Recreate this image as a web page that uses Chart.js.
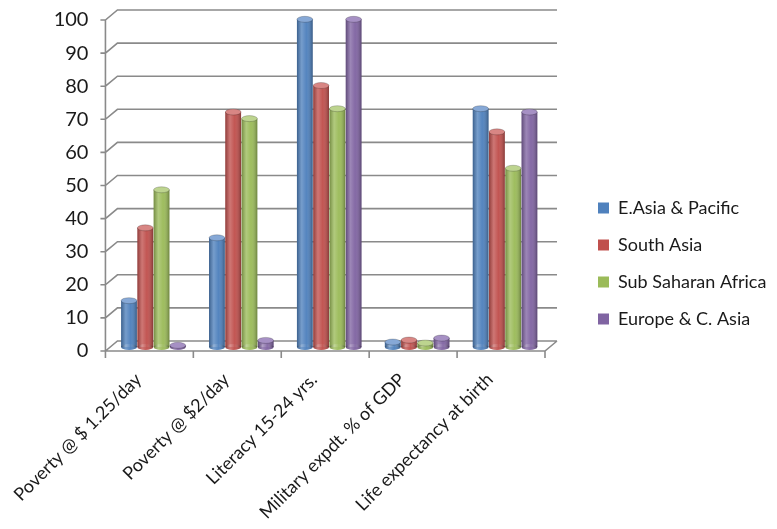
<!DOCTYPE html>
<html>
<head>
<meta charset="utf-8">
<script src="https://cdn.jsdelivr.net/npm/chart.js@4.4.0/dist/chart.umd.min.js"></script>
<style>
    html, body { margin: 0; padding: 0; background: #fff; }
    #wrap { width: 777px; height: 529px; }
</style>
</head>
<body>
<div id="wrap"><canvas id="charts"></canvas></div>
<script>
// data
const categories = ['Poverty @ $ 1.25/day', 'Poverty @ $2/day', 'Literacy 15-24 yrs.', 'Military expdt. % of GDP', 'Life expectancy at birth']
const seriesNames = ['E.Asia & Pacific', 'South Asia', 'Sub Saharan Africa', 'Europe & C. Asia']
const eastAsia = [14, 33, 99, 1.5, 72]
const southAsia = [36, 71, 79, 2.1, 65]
const subSahara = [47.5, 69, 72, 1.2, 54]
const europeAsia = [0.5, 2, 99, 2.7, 71]
const yTicks = [0, 10, 20, 30, 40, 50, 60, 70, 80, 90, 100]

const colors = ['#4F81BD', '#C0504D', '#9BBB59', '#8064A2']
const capColors = ['#86A8D6', '#D88684', '#BDD48F', '#A690C4']
const FONT = 'Lato'
const LEGEND_WIDTH = 198

// 3D look: front plane and back wall offsets from the bar plane
const front = { x: -4, y: 4 }
const back = { x: 8, y: -6 }

const wallPlugin = {
    id: 'wall',
    beforeDatasetsDraw(chart) {
        const { ctx, chartArea: a, scales: { y } } = chart
        ctx.save()
        ctx.strokeStyle = '#8a8a8a'
        ctx.lineWidth = 1.6
        ctx.beginPath()
        y.ticks.forEach(t => {
            const py = y.getPixelForValue(t.value)
            ctx.moveTo(a.left + front.x - 5, py + front.y)
            ctx.lineTo(a.left + front.x, py + front.y)
            ctx.lineTo(a.left + back.x, py + back.y)
            ctx.lineTo(a.right + back.x, py + back.y)
        })
        // front axis + floor
        ctx.moveTo(a.left + front.x, a.top + front.y)
        ctx.lineTo(a.left + front.x, a.bottom + front.y)
        ctx.lineTo(a.right + front.x, a.bottom + front.y)
        ctx.lineTo(a.right + back.x, a.bottom + back.y)
        // category ticks
        const w = (a.right - a.left) / categories.length
        for (let i = 0; i <= categories.length; i++) {
            const px = a.left + i * w + front.x
            ctx.moveTo(px, a.bottom + front.y)
            ctx.lineTo(px, a.bottom + front.y + 7)
        }
        ctx.stroke()
        ctx.restore()
    }
}

function ellipse(ctx, x, y, rx, ry) {
    ctx.beginPath()
    ctx.ellipse(x, y, rx, ry, 0, 0, Math.PI * 2)
}

const cylinderPlugin = {
    id: 'cylinder',
    afterDatasetsDraw(chart) {
        const ctx = chart.ctx
        ctx.save()
        chart.data.datasets.forEach((ds, di) => {
            chart.getDatasetMeta(di).data.forEach(bar => {
                const { x, y, base, width } = bar.getProps(['x', 'y', 'base', 'width'], true)
                const l = x - width / 2
                const ry = 3
                const g = ctx.createLinearGradient(l, 0, l + width, 0)
                g.addColorStop(0, 'rgba(0,0,0,0.25)')
                g.addColorStop(0.3, 'rgba(255,255,255,0.22)')
                g.addColorStop(0.6, 'rgba(255,255,255,0.03)')
                g.addColorStop(1, 'rgba(0,0,0,0.3)')
                // bottom cap
                ctx.fillStyle = colors[di]
                ellipse(ctx, x, base, width / 2, ry)
                ctx.fill()
                ctx.fillStyle = g
                ctx.fill()
                ctx.fillRect(l, y, width, base - y)
                // top cap
                ellipse(ctx, x, y, width / 2, ry)
                ctx.fillStyle = capColors[di]
                ctx.fill()
                ctx.strokeStyle = 'rgba(0,0,0,0.25)'
                ctx.lineWidth = 0.8
                ctx.stroke()
            })
        })
        ctx.restore()
    }
}

// legend keeps a fixed width so it is not squeezed by the layout
const legendWidthPlugin = {
    id: 'legendWidth',
    afterInit(chart) {
        const lg = chart.legend
        const fit = lg.fit.bind(lg)
        lg.fit = () => { fit(); lg.width = LEGEND_WIDTH }
    }
}

const series = [eastAsia, southAsia, subSahara, europeAsia]

var ctx = document.getElementById('charts').getContext('2d')

var chart = new Chart(ctx, {
    type: 'bar',
    data: {
        labels: categories,
        datasets: series.map((d, i) => ({
            label: seriesNames[i],
            data: d,
            backgroundColor: colors[i],
            borderWidth: 0,
            categoryPercentage: 0.74,
            barPercentage: 0.97
        }))
    },
    options: {
        responsive: true,
        maintainAspectRatio: false,
        animation: false,
        layout: { padding: { top: 16, left: 0, right: 0, bottom: 0 } },
        scales: {
            x: {
                afterFit: s => { s.height = 182 },
                grid: { display: false, drawTicks: false },
                border: { display: false },
                ticks: {
                    autoSkip: false, minRotation: 45, maxRotation: 45,
                    padding: 22, labelOffset: -15, color: '#1a1a1a',
                    font: { family: FONT, size: 18 }
                }
            },
            y: {
                min: 0, max: 100,
                afterBuildTicks: s => { s.ticks = yTicks.map(v => ({ value: v })) },
                afterFit: s => { s.width = 102 },
                grid: { display: false, drawTicks: true, tickLength: 21 },
                border: { display: false },
                ticks: {
                    padding: 0, labelOffset: 4, color: '#1a1a1a',
                    font: { family: FONT, size: 20 }
                }
            },
            gap: {
                type: 'linear', position: 'right',
                afterFit: s => { s.width = 30 },
                grid: { display: false, drawTicks: false },
                border: { display: false },
                ticks: { display: false }
            }
        },
        plugins: {
            legend: {
                position: 'right',
                align: 'end',
                fullSize: false,
                labels: {
                    boxWidth: 11, boxHeight: 11, padding: 19, color: '#1a1a1a',
                    font: { family: FONT, size: 18 }
                }
            },
            tooltip: { enabled: false }
        }
    },
    plugins: [wallPlugin, cylinderPlugin, legendWidthPlugin]
})
</script>
</body>
</html>
